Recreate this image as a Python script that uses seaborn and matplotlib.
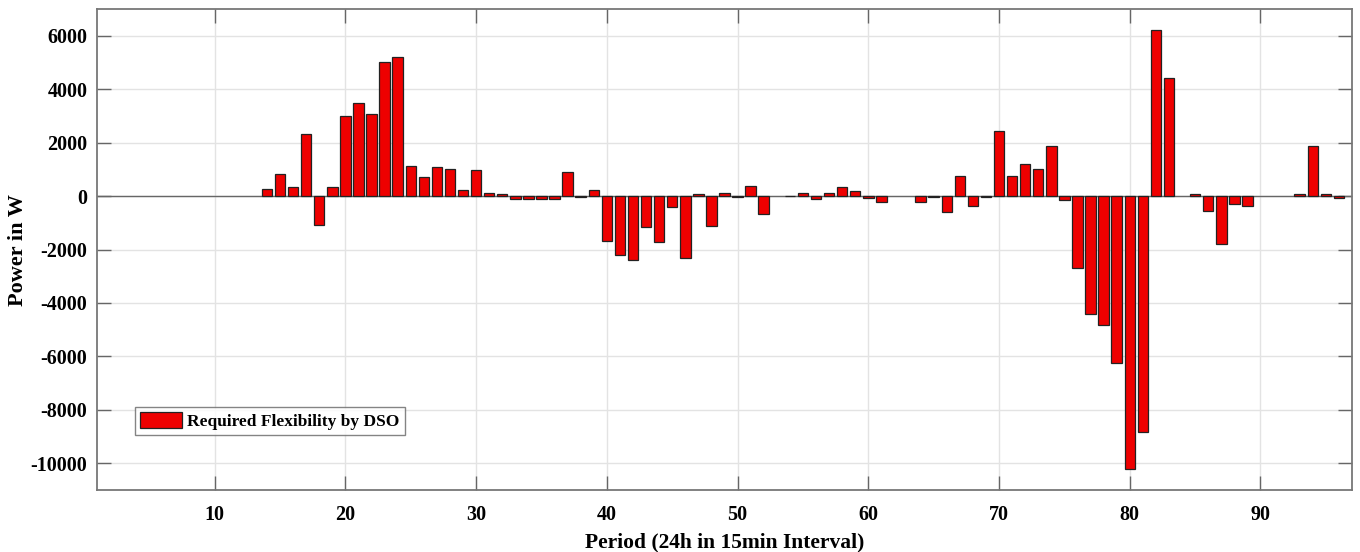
import numpy as np
import pandas as pd
import matplotlib
matplotlib.use("Agg")
import matplotlib.pyplot as plt
import seaborn as sns

periods = list(range(1, 97))
power_w = [0]*13 + [
    250, 820, 325, 2340, -1070, 325, 3010, 3500, 3060, 5030,      # 14-23
    5220, 1120, 720, 1100, 1010, 210, 960, 110, 75, -110,         # 24-33
    -110, -110, -110, 910, -50, 225, -1680, -2200, -2390, -1160,  # 34-43
    -1715, -410, -2310, 90, -1130, 100, -30, 375, -680, 0,        # 44-53
    20, 110, -110, 100, 325, 175, -75, -210, 0, 0,                # 54-63
    -210, -50, -600, 735, -385, -50, 2425, 735, 1195, 1010,       # 64-73
    1870, -160, -2710, -4425, -4840, -6230, -10200, -8820, 6230, 4420,  # 74-83
    0, 75, -545, -1790, -310, -385, 0, 0, 0, 90,                  # 84-93
    1865, 60, -75,                                                # 94-96
]
x_ticks = [10, 20, 30, 40, 50, 60, 70, 80, 90]
y_ticks = [-10000, -8000, -6000, -4000, -2000, 0, 2000, 4000, 6000]
series_label = "Required Flexibility by DSO"
x_label = "Period (24h in 15min Interval)"
y_label = "Power in W"

df = pd.DataFrame({"period": periods, "power": power_w})

sns.set_style("white")
plt.rcParams["font.family"] = ["Liberation Serif", "DejaVu Serif"]
plt.rcParams["font.weight"] = "bold"
plt.rcParams["text.color"] = "black"
plt.rcParams["axes.labelcolor"] = "black"
plt.rcParams["xtick.labelcolor"] = "black"
plt.rcParams["ytick.labelcolor"] = "black"

fig = plt.figure(figsize=(13.6, 5.52), dpi=100)
ax = fig.add_axes([97/1360, 1-490/552, (1352-97)/1360, (490-9)/552])

sns.barplot(data=df, x="period", y="power", native_scale=True, width=0.8,
            color="#EE0000", saturation=1, edgecolor="#222222", linewidth=0.9,
            label=series_label, ax=ax, zorder=3)
for p in ax.patches:
    if p.get_height() == 0:
        p.set_edgecolor("none")

ax.axhline(0, color="#666666", lw=1.0, zorder=2)
ax.set_xlim(1, 97)
ax.set_ylim(-11000, 7000)
ax.set_xticks(x_ticks)
ax.set_yticks(y_ticks)
ax.set_xticklabels([str(v) for v in x_ticks], fontsize=14.5, fontweight="bold", color="black")
ax.set_yticklabels([str(v) for v in y_ticks], fontsize=14.5, fontweight="bold", color="black")
ax.grid(True, color="#e3e3e3", lw=1.0, zorder=0)
ax.set_axisbelow(True)
ax.tick_params(direction="in", length=10, width=1, color="#666666",
               top=True, right=True, bottom=True, left=True)
ax.tick_params(axis="y", pad=7)
ax.tick_params(axis="x", pad=11)
for s in ax.spines.values():
    s.set_color("#777777")
    s.set_linewidth(1.3)

ax.set_xlabel(x_label, fontsize=15.5, fontweight="bold", labelpad=5, color="black")
ax.set_ylabel(y_label, fontsize=16, fontweight="bold", color="black")
ax.yaxis.set_label_coords((28-97)/1255, 0.5)

leg = ax.legend(loc="upper left",
                frameon=True, fancybox=False, edgecolor="#666666",
                prop={"family": "Liberation Serif", "weight": "bold", "size": 12.5},
                handlelength=2.4, handleheight=1.0, handletextpad=0.3,
                borderpad=0.3, borderaxespad=0)
leg.get_frame().set_linewidth(1.0)
for t in leg.get_texts():
    t.set_color("black")
for h in leg.get_patches():
    h.set_edgecolor("#222222")
    h.set_linewidth(0.9)
leg.set_bbox_to_anchor(((135-97)/1255, (490-407)/481), transform=ax.transAxes)

fig.savefig("out.png", dpi=100)
